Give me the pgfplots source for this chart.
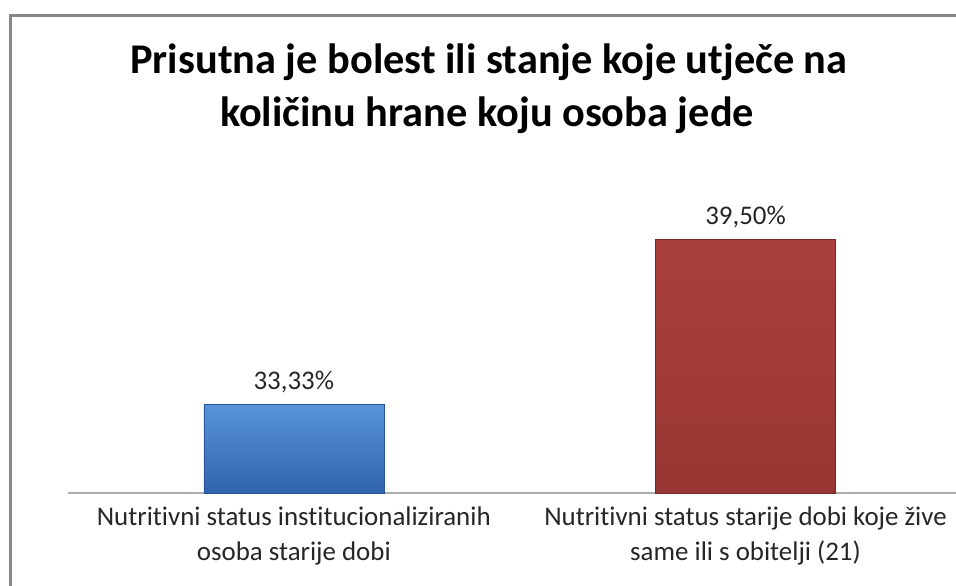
\documentclass[border=0pt]{standalone}
\usepackage{pgfplots}
\pgfplotsset{compat=1.18}
\usepackage{fontspec}
\setmainfont{Carlito}[Ligatures=NoCommon]
\definecolor{frame}{RGB}{135,135,135}
\definecolor{txt}{RGB}{38,38,38}
\definecolor{blueTop}{RGB}{88,148,220}
\definecolor{blueBot}{RGB}{48,100,172}
\definecolor{blueEdge}{RGB}{40,85,150}
\definecolor{redTop}{RGB}{170,64,60}
\definecolor{redBot}{RGB}{152,54,51}
\definecolor{redEdge}{RGB}{115,40,38}
\begin{document}
\begin{tikzpicture}
\path[use as bounding box] (0,0) rectangle (956bp,586bp);
\fill[white] (0,0) rectangle (956bp,586bp);
\draw[frame, line width=2.2bp] (10.5bp,0) -- (10.5bp,570.5bp) -- (956bp,570.5bp);
\node[font=\bfseries\fontsize{42.5}{50}\selectfont, anchor=base] at (489bp,512bp) {Prisutna je bolest ili stanje koje utječe na};
\node[font=\bfseries\fontsize{42.5}{50}\selectfont, anchor=base] at (487bp,459bp) {količinu hrane koju osoba jede};
\begin{axis}[
  at={(68bp,93bp)}, anchor=south west,
  scale only axis, width=888bp, height=267bp,
  xmin=-0.5, xmax=1.466, ymin=30, ymax=40,
  clip=false,
  axis x line*=bottom, axis y line=none,
  x axis line style={-, draw=gray!65, line width=1.2bp},
  xtick={0,1}, major tick length=0pt,
  xticklabels={Nutritivni status institucionaliziranih\\osoba starije dobi,
               Nutritivni status starije dobi koje žive\\same ili s obitelji (21)},
  xticklabel style={align=center, font=\fontsize{27}{35}\selectfont, text=txt, yshift=-10bp},
  ytick=\empty,
  ybar, bar width=180bp, bar shift=0pt,
  nodes near coords={\pgfmathprintnumber[fixed,fixed zerofill,precision=2,use comma,assume math mode=true]{\pgfplotspointmeta}\%},
  every node near coord/.append style={font=\fontsize{27}{30}\selectfont, text=txt, yshift=8bp},
]
\addplot[top color=blueTop, bottom color=blueBot, draw=blueEdge, line width=0.6bp] coordinates {(0,33.33)};
\addplot[top color=redTop, bottom color=redBot, draw=redEdge, line width=0.6bp] coordinates {(1,39.50)};
\end{axis}
\end{tikzpicture}
\end{document}
